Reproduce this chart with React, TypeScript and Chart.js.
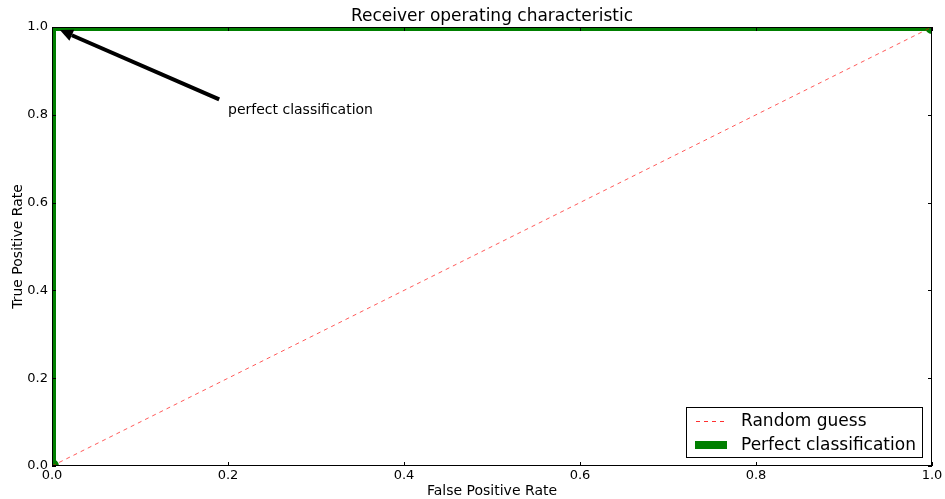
import React, { useEffect, useRef } from "react";
import { Chart, registerables } from "chart.js";

Chart.register(...registerables);

const randomX = [0, 1];
const randomY = [0, 1];
const perfectX = [0, 0, 1];
const perfectY = [0, 1, 1];
const tickValues = [0, 0.2, 0.4, 0.6, 0.8, 1.0];
const titleText = "Receiver operating characteristic";
const xLabel = "False Positive Rate";
const yLabel = "True Positive Rate";
const legendLabels = ["Random guess", "Perfect classification"];
const annotationText = "perfect classification";
const annotationXY = [0.2, 0.8];
const arrowTail = [0.19, 0.835];
const arrowHead = [0.009, 0.993];

const FONT = "'DejaVu Sans', sans-serif";

export default function App() {
  const ref = useRef<HTMLCanvasElement>(null);
  useEffect(() => {
    document.body.style.margin = "0";
    const canvas = ref.current!;
    const overlay = {
      id: "overlay",
      afterDatasetsDraw(chart: any) {
        const { ctx, chartArea: a, scales } = chart;
        const xs = scales.x, ys = scales.y;
        ctx.save();
        // frame
        ctx.strokeStyle = "#000";
        ctx.lineWidth = 1;
        ctx.strokeRect(a.left + 0.5, a.top + 0.5, a.right - a.left - 1, a.bottom - a.top - 1);
        // inner ticks on all sides
        const tl = 4;
        ctx.beginPath();
        for (const v of tickValues) {
          const px = Math.round(xs.getPixelForValue(v)) + 0.5;
          ctx.moveTo(px, a.bottom); ctx.lineTo(px, a.bottom - tl);
          ctx.moveTo(px, a.top); ctx.lineTo(px, a.top + tl);
          const py = Math.round(ys.getPixelForValue(v)) + 0.5;
          ctx.moveTo(a.left, py); ctx.lineTo(a.left + tl, py);
          ctx.moveTo(a.right, py); ctx.lineTo(a.right - tl, py);
        }
        ctx.stroke();
        // title
        ctx.fillStyle = "#000";
        ctx.font = `17px ${FONT}`;
        ctx.textAlign = "center";
        ctx.textBaseline = "middle";
        ctx.fillText(titleText, (a.left + a.right) / 2, 17);
        // axis labels
        ctx.font = `14px ${FONT}`;
        ctx.fillText(xLabel, (a.left + a.right) / 2, 491);
        ctx.save();
        ctx.translate(18, (a.top + a.bottom) / 2);
        ctx.rotate(-Math.PI / 2);
        ctx.fillText(yLabel, 0, 0);
        ctx.restore();
        // annotation
        ctx.textAlign = "left";
        ctx.textBaseline = "alphabetic";
        ctx.font = `14px ${FONT}`;
        ctx.fillText(annotationText, xs.getPixelForValue(annotationXY[0]), ys.getPixelForValue(annotationXY[1]) - 1);
        // arrow
        const tx = xs.getPixelForValue(arrowTail[0]), ty = ys.getPixelForValue(arrowTail[1]);
        const hx = xs.getPixelForValue(arrowHead[0]), hy = ys.getPixelForValue(arrowHead[1]);
        const ang = Math.atan2(hy - ty, hx - tx);
        const headLen = 13, headW = 6;
        const bx = hx - headLen * Math.cos(ang), by = hy - headLen * Math.sin(ang);
        ctx.strokeStyle = "#000";
        ctx.lineWidth = 4;
        ctx.beginPath();
        ctx.moveTo(tx, ty);
        ctx.lineTo(bx, by);
        ctx.stroke();
        ctx.beginPath();
        ctx.moveTo(hx, hy);
        ctx.lineTo(bx + headW * Math.sin(ang), by - headW * Math.cos(ang));
        ctx.lineTo(bx - headW * Math.sin(ang), by + headW * Math.cos(ang));
        ctx.closePath();
        ctx.fillStyle = "#000";
        ctx.fill();
        // legend
        const lx = 686, ly = 407, lw = 236, lh = 50;
        ctx.fillStyle = "#fff";
        ctx.fillRect(lx, ly, lw, lh);
        ctx.lineWidth = 1;
        ctx.strokeStyle = "#000";
        ctx.strokeRect(lx + 0.5, ly + 0.5, lw, lh);
        ctx.font = `17px ${FONT}`;
        ctx.textBaseline = "middle";
        ctx.fillStyle = "#000";
        // random guess
        ctx.save();
        ctx.strokeStyle = "#ff3030";
        ctx.setLineDash([4, 4]);
        ctx.beginPath();
        ctx.moveTo(696, 421.5);
        ctx.lineTo(726, 421.5);
        ctx.stroke();
        ctx.restore();
        ctx.fillText(legendLabels[0], 741, 422);
        ctx.strokeStyle = "#007f00";
        ctx.lineWidth = 8;
        ctx.beginPath();
        ctx.moveTo(695, 445);
        ctx.lineTo(727, 445);
        ctx.stroke();
        ctx.fillText(legendLabels[1], 741, 446);
        ctx.restore();
      },
    };
    const chart = new Chart(canvas, {
      type: "scatter",
      data: {
        datasets: [
          {
            data: randomX.map((x, i) => ({ x, y: randomY[i] })),
            showLine: true,
            borderColor: "rgba(255,0,0,0.65)",
            borderWidth: 1,
            borderDash: [4, 4],
            pointRadius: 0,
            clip: 0,
          } as any,
          {
            data: perfectX.map((x, i) => ({ x, y: perfectY[i] })),
            showLine: true,
            borderColor: "#007f00",
            backgroundColor: "#007f00",
            borderWidth: 8,
            pointRadius: [7, 0, 7],
            pointBorderWidth: 0,
            clip: 0,
          } as any,
        ],
      },
      options: {
        responsive: false,
        animation: false,
        events: [],
        layout: { padding: { left: 0, top: 27, right: 13, bottom: 0 } },
        plugins: { legend: { display: false }, tooltip: { enabled: false }, title: { display: false } },
        scales: {
          x: {
            type: "linear",
            min: 0,
            max: 1,
            afterBuildTicks: (s: any) => { s.ticks = tickValues.map((v) => ({ value: v })); },
            afterFit: (s: any) => { s.height = 33; },
            grid: { display: false, drawTicks: false },
            border: { display: false },
            ticks: { color: "#000", font: { family: FONT, size: 13 }, padding: 2, maxRotation: 0, autoSkip: false, callback: (v: any) => Number(v).toFixed(1) },
          },
          y: {
            type: "linear",
            min: 0,
            max: 1,
            afterBuildTicks: (s: any) => { s.ticks = tickValues.map((v) => ({ value: v })); },
            afterFit: (s: any) => { s.width = 52; },
            grid: { display: false, drawTicks: false },
            border: { display: false },
            ticks: { color: "#000", font: { family: FONT, size: 13 }, padding: 4, autoSkip: false, callback: (v: any) => Number(v).toFixed(1) },
          },
        },
      },
      plugins: [overlay],
    });
    return () => chart.destroy();
  }, []);
  return (
    <div style={{ position: "absolute", left: 0, top: 0, width: 945, height: 499 }}>
      <canvas ref={ref} width={945} height={499} style={{ width: 945, height: 499 }} />
    </div>
  );
}
